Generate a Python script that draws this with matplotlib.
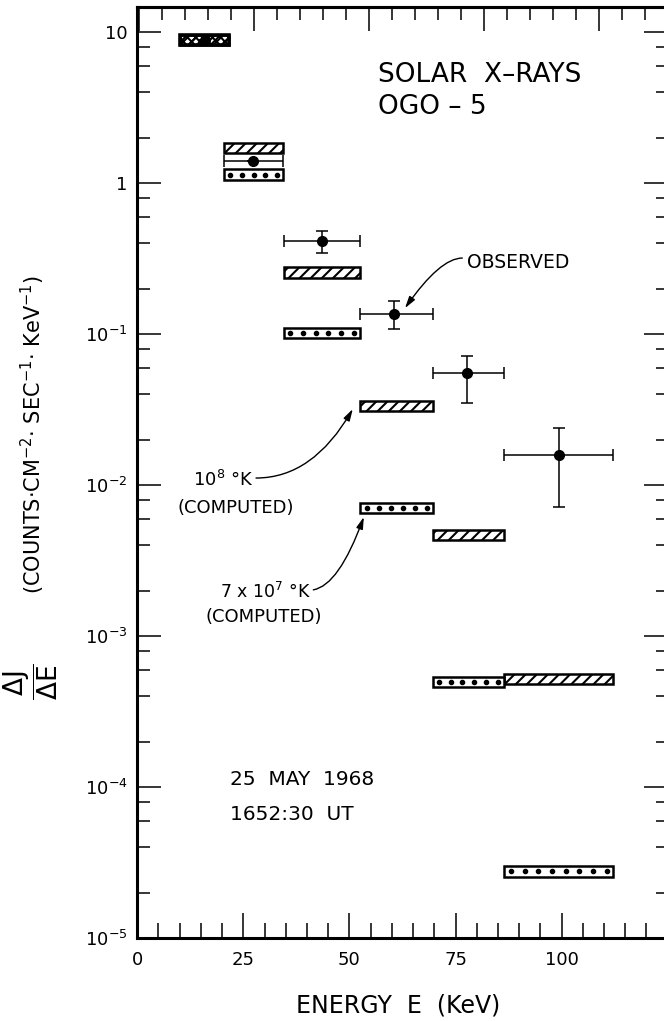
import numpy as np
import matplotlib
matplotlib.use('Agg')
import matplotlib.pyplot as plt
from matplotlib.patches import Rectangle
from matplotlib.ticker import LogLocator, MultipleLocator, NullFormatter

# Canales de energia (KeV)
bin_lo = [10.2, 20.5, 34.5, 52.6, 69.6, 86.5]
bin_hi = [21.6, 34.4, 52.6, 69.8, 86.5, 112.2]

# Espectro calculado, 10^8 K (rayado) y 7x10^7 K (puntos)
hot_vals = [8.9, 1.71, 0.257, 0.0336, 0.00467, 0.000522]
warm_vals = [None, 1.14, 0.102, 0.00705, 0.000499, 2.77e-5]

# Puntos observados
obs_x = [16.0, 27.2, 43.5, 60.6, 77.6, 99.3]
obs_y = [8.9, 1.41, 0.416, 0.136, 0.0551, 0.0159]
obs_ylo = [8.9, 1.41, 0.348, 0.109, 0.0349, 0.00718]
obs_yhi = [8.9, 1.41, 0.484, 0.167, 0.0721, 0.0238]
obs_xerr = [False, True, True, True, True, True]

y_ticks = [1e-5, 1e-4, 1e-3, 1e-2, 1e-1, 1, 10]
y_labels = [r'$10^{-5}$', r'$10^{-4}$', r'$10^{-3}$', r'$10^{-2}$', r'$10^{-1}$', '1', '10']
x_ticks = [0, 25, 50, 75, 100]

plt.rcParams['font.family'] = ['DejaVu Sans']
plt.rcParams['hatch.linewidth'] = 1.5

fig = plt.figure(figsize=(6.64, 10.21), dpi=100)
ax = fig.add_axes([0.2066, 0.0810, 0.799, 0.9121])
ax.set_yscale('log')
ax.set_xlim(0, 125)
ax.set_ylim(1e-5, 14.7)

f = 1.083  # media altura de las cajas (factor en escala log)

for lo, hi, v in zip(bin_lo, bin_hi, hot_vals):
    ax.add_patch(Rectangle((lo, v / f), hi - lo, v * f - v / f, facecolor='white',
                           edgecolor='black', hatch='///', linewidth=1.8, zorder=3))

for lo, hi, v in zip(bin_lo, bin_hi, warm_vals):
    if v is None:
        continue
    ax.add_patch(Rectangle((lo, v / f), hi - lo, v * f - v / f, facecolor='white',
                           edgecolor='black', linewidth=1.8, zorder=3))
    n = int(round((hi - lo) / 3.6)) + 1
    pad = (hi - lo) / (2 * n)
    xs = np.linspace(lo + pad, hi - pad, n)
    ax.plot(xs, [v] * n, 'o', color='black', markersize=3.0, zorder=4)

# primer canal: caja muy oscura
ax.add_patch(Rectangle((bin_lo[0], hot_vals[0] / f), bin_hi[0] - bin_lo[0],
                       hot_vals[0] * f - hot_vals[0] / f, facecolor='none',
                       edgecolor='black', hatch='xxxx', linewidth=2.6, zorder=4))

for i in range(len(obs_x)):
    xe = [[obs_x[i] - bin_lo[i]], [bin_hi[i] - obs_x[i]]] if obs_xerr[i] else None
    ye = [[obs_y[i] - obs_ylo[i]], [obs_yhi[i] - obs_y[i]]]
    ax.errorbar([obs_x[i]], [obs_y[i]], xerr=xe, yerr=ye, fmt='o', color='black',
                markersize=7, elinewidth=1.1, capsize=4.5, capthick=1.1, zorder=5)

# ejes
for s in ax.spines.values():
    s.set_linewidth(2.2)
ax.set_yticks(y_ticks)
ax.set_yticklabels(y_labels)
ax.yaxis.set_minor_locator(LogLocator(base=10, subs=(2, 4, 6, 8)))
ax.yaxis.set_minor_formatter(NullFormatter())
ax.set_xticks(x_ticks)
ax.set_xticklabels([str(t) for t in x_ticks])
ax.xaxis.set_minor_locator(MultipleLocator(5))
ax.tick_params(which='major', direction='in', length=17, width=1.1, labelsize=13,
               right=True, top=False, pad=7)
ax.tick_params(which='minor', direction='in', length=9, width=1.1, right=True, top=False)
ax.tick_params(axis='x', which='major', length=18, pad=9)
ax.tick_params(axis='x', which='minor', length=11)

top = ax.secondary_xaxis('top', functions=(lambda x: (x - 0.4) * 0.9225,
                                           lambda u: u / 0.9225 + 0.4))
top.set_xticks(x_ticks)
top.xaxis.set_minor_locator(MultipleLocator(5))
top.tick_params(which='major', direction='in', length=17, width=1.1, labeltop=False)
top.tick_params(which='minor', direction='in', length=9, width=1.1)
top.spines['top'].set_linewidth(2.2)

# etiquetas de ejes
fig.text(0.6, 0.003, 'ENERGY  E  (KeV)', ha='center', va='bottom', fontsize=17)
fig.text(0.046, 0.332, r'$\dfrac{\Delta \mathrm{J}}{\Delta \mathrm{E}}$', rotation=90,
         ha='center', va='center', fontsize=19)
fig.text(0.050, 0.574, r'(COUNTS$\cdot$CM$^{-2}$$\cdot$ SEC$^{-1}$$\cdot$ KeV$^{-1}$)',
         rotation=90, ha='center', va='center', fontsize=15)

# textos
ax.text(56.7, 5.2, 'SOLAR  X–RAYS', fontsize=19, va='center')
ax.text(56.7, 3.2, 'OGO – 5', fontsize=19, va='center')
ax.text(77.6, 0.301, 'OBSERVED', fontsize=13.5, va='center')
ax.text(13.2, 0.01084, r'10$^{8}$ °K', fontsize=13, va='center')
ax.text(9.4, 0.00708, '(COMPUTED)', fontsize=13, va='center')
ax.text(19.5, 0.00196, r'7 x 10$^{7}$ °K', fontsize=12.5, va='center')
ax.text(16.0, 0.00134, '(COMPUTED)', fontsize=13, va='center')
ax.text(21.9, 1.12e-4, '25  MAY  1968', fontsize=14.5, va='center')
ax.text(21.9, 6.56e-5, '1652:30  UT', fontsize=14.5, va='center')

arrow = dict(arrowstyle='-|>,head_length=0.7,head_width=0.2', color='black', lw=1.0,
             shrinkA=0, shrinkB=0)
ax.annotate('', xy=(63.1, 0.149), xytext=(76.6, 0.320),
            arrowprops=dict(connectionstyle='angle3,angleA=0,angleB=55', **arrow))
ax.annotate('', xy=(50.8, 0.0320), xytext=(28.0, 0.01117),
            arrowprops=dict(connectionstyle='angle3,angleA=0,angleB=60', **arrow))
ax.annotate('', xy=(53.4, 0.00617), xytext=(41.5, 0.00203),
            arrowprops=dict(connectionstyle='angle3,angleA=10,angleB=70', **arrow))

fig.savefig('out.png', dpi=100)
